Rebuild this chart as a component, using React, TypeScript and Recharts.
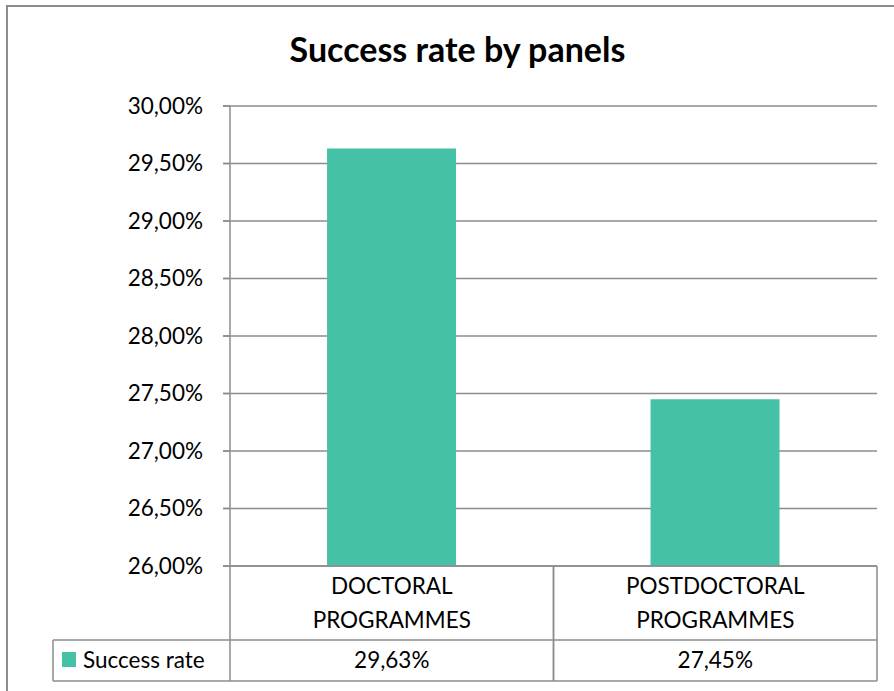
import React from "react";
import { BarChart, Bar, XAxis, YAxis, CartesianGrid } from "recharts";

const categories = ["DOCTORAL PROGRAMMES", "POSTDOCTORAL PROGRAMMES"];
const categoryLines = [
  ["DOCTORAL", "PROGRAMMES"],
  ["POSTDOCTORAL", "PROGRAMMES"],
];
const successRate = [29.63, 27.45];
const yTicks = [26, 26.5, 27, 27.5, 28, 28.5, 29, 29.5, 30];

const seriesName = "Success rate";
const barColor = "#45C2A5";
const lineColor = "#8c8c8c";
const font = "Lato, 'Open Sans', sans-serif";
const textSize = 22.5;

const data = categories.map((c, i) => ({ name: c, value: successRate[i], index: i }));

const fmt = (v: number) => `${v.toFixed(2).replace(".", ",")}%`;

// draws the category cell plus the data-table row under it
const TableTick = (props: any) => {
  const { x, y, payload } = props;
  const i = payload.index;
  const half = payload.offset;
  const left = x - half;
  const right = x + half;
  const top = y - 8; // axis line
  const rowTop = 640;
  const rowBottom = 681;
  return (
    <g>
      <line x1={left} y1={top} x2={left} y2={rowBottom} stroke={lineColor} strokeWidth={1.5} />
      <line x1={right} y1={top} x2={right} y2={rowBottom} stroke={lineColor} strokeWidth={1.5} />
      <line x1={left} y1={rowTop} x2={right} y2={rowTop} stroke={lineColor} strokeWidth={1.5} />
      <line x1={left} y1={rowBottom} x2={right} y2={rowBottom} stroke={lineColor} strokeWidth={1.5} />
      {categoryLines[i].map((t, k) => (
        <text key={k} x={x} y={594 + k * 34} textAnchor="middle" fontSize={textSize} fontFamily={font} fill="#000">
          {t}
        </text>
      ))}
      <text x={x} y={668} textAnchor="middle" fontSize={textSize} fontFamily={font} fill="#000">
        {fmt(successRate[i])}
      </text>
      {i === 0 && (
        <g>
          <line x1={53} y1={rowTop} x2={left} y2={rowTop} stroke={lineColor} strokeWidth={1.5} />
          <line x1={53} y1={rowBottom} x2={left} y2={rowBottom} stroke={lineColor} strokeWidth={1.5} />
          <line x1={53} y1={rowTop} x2={53} y2={rowBottom} stroke={lineColor} strokeWidth={1.5} />
          <rect x={62} y={652} width={14} height={15} fill={barColor} />
          <text x={83} y={668} fontSize={textSize} fontFamily={font} fill="#000">
            {seriesName}
          </text>
        </g>
      )}
    </g>
  );
};

export default function App() {
  return (
    <div style={{ position: "absolute", left: 0, top: 0, width: 894, height: 691, background: "#fff" }}>
      <div
        style={{
          position: "absolute",
          left: 6,
          top: 5,
          width: 900,
          height: 700,
          border: `2px solid ${lineColor}`,
          boxSizing: "border-box",
        }}
      />
      <div
        style={{
          position: "absolute",
          left: 0,
          top: 27,
          width: 915,
          textAlign: "center",
          fontFamily: font,
          fontWeight: 700,
          fontSize: 34,
          lineHeight: "44px",
          color: "#000",
        }}
      >
        Success rate by panels
      </div>
      <div style={{ position: "absolute", left: 0, top: 0 }}>
        <BarChart
          width={894}
          height={691}
          data={data}
          margin={{ top: 106, right: 17, left: 130, bottom: 10 }}
          barCategoryGap="30%"
        >
          <CartesianGrid vertical={false} stroke={lineColor} strokeWidth={1.5} x={223} width={654} />
          <YAxis
            width={100}
            domain={[26, 30]}
            ticks={yTicks}
            type="number"
            allowDataOverflow
            tickFormatter={fmt}
            tickSize={7}
            tickMargin={20}
            tick={{ fontSize: textSize, fontFamily: font, fill: "#000" }}
            axisLine={{ stroke: lineColor, strokeWidth: 1.5 }}
            tickLine={{ stroke: lineColor, strokeWidth: 1.5 }}
          />
          <XAxis
            dataKey="name"
            height={115}
            interval={0}
            tickLine={false}
            axisLine={{ stroke: lineColor, strokeWidth: 1.5 }}
            tick={<TableTick />}
          />
          <Bar dataKey="value" name={seriesName} fill={barColor} isAnimationActive={false} />
        </BarChart>
      </div>
    </div>
  );
}
